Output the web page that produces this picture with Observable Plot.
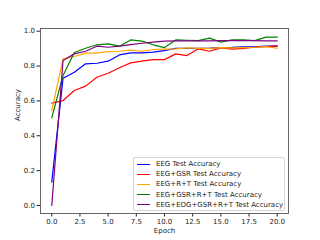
<!DOCTYPE html>
<html><head><meta charset="utf-8">
<script src="https://cdn.jsdelivr.net/npm/d3@7"></script>
<script src="https://cdn.jsdelivr.net/npm/@observablehq/plot@0.6"></script>
<style>
html,body{margin:0;padding:0;background:#fff;}
#wrap{position:relative;width:320px;height:240px;font-family:"DejaVu Sans",sans-serif;}
#legend{position:absolute;left:133px;top:157px;width:152px;height:54px;border:1px solid #d6d6d6;border-radius:2px;background:rgba(255,255,255,0.8);box-sizing:border-box;font-size:7px;color:#222;}
.row{position:absolute;left:3px;height:10px;display:flex;align-items:center;}
.sw{width:13px;height:0;border-top:1.2px solid;margin-right:6px;}
</style>
</head><body>
<div id="wrap"><div id="chart"></div><div id="legend"></div></div>
<script>
const epochs = d3.range(0, 21);
const seriesNames = ["EEG Test Accuracy","EEG+GSR Test Accuracy","EEG+R+T Test Accuracy","EEG+GSR+R+T Test Accuracy","EEG+EOG+GSR+R+T Test Accuracy"];
const seriesColors = ["#0000ff","#ff0000","#ffa500","#008000","#800080"];
const eeg = [0.134,0.73,0.765,0.813,0.816,0.828,0.864,0.876,0.876,0.88,0.889,0.902,0.902,0.902,0.903,0.906,0.907,0.91,0.91,0.914,0.914];
const eegGsr = [0.587,0.602,0.66,0.685,0.736,0.759,0.79,0.818,0.828,0.837,0.837,0.87,0.86,0.899,0.885,0.904,0.897,0.902,0.908,0.912,0.916];
const eegRT = [0.545,0.841,0.855,0.874,0.874,0.883,0.885,0.891,0.885,0.895,0.897,0.899,0.904,0.902,0.902,0.906,0.904,0.906,0.908,0.912,0.902];
const eegGsrRT = [0.503,0.746,0.878,0.902,0.922,0.927,0.914,0.95,0.943,0.922,0.906,0.95,0.948,0.946,0.96,0.937,0.95,0.95,0.946,0.966,0.966];
const eegAll = [0.0,0.832,0.87,0.885,0.914,0.908,0.914,0.923,0.931,0.937,0.943,0.945,0.945,0.945,0.945,0.946,0.946,0.946,0.946,0.945,0.945];
const xTicks = [0,2.5,5,7.5,10,12.5,15,17.5,20];
const yTicks = [0,0.2,0.4,0.6,0.8,1.0];

const allSeries = [eeg, eegGsr, eegRT, eegGsrRT, eegAll];
const data = allSeries.flatMap((vals, i) => vals.map((v, j) => ({epoch: epochs[j], acc: v, series: seriesNames[i]})));

const chart = Plot.plot({
  width: 320, height: 240,
  marginLeft: 40, marginRight: 32, marginTop: 28, marginBottom: 27,
  style: {fontFamily: "DejaVu Sans, sans-serif", fontSize: "7px", color: "#222", background: "#fff"},
  x: {domain: [-1, 21], ticks: xTicks, tickFormat: d3.format(".1f"), tickSize: 3.5, tickPadding: 2, label: null},
  y: {domain: [-0.046, 1.0155], ticks: yTicks, tickFormat: d3.format(".1f"), tickSize: 3.5, tickPadding: 2, label: null},
  color: {domain: seriesNames, range: seriesColors},
  marks: [
    Plot.lineY(data, {x: "epoch", y: "acc", z: "series", stroke: "series", strokeWidth: 1.2}),
    Plot.frame({stroke: "#555", strokeWidth: 0.9}),
    Plot.text(["Epoch"], {frameAnchor: "bottom", dy: 19, text: d => d, fontSize: 7, fill: "#222"}),
    Plot.text(["Accuracy"], {frameAnchor: "left", dx: -23, rotate: -90, text: d => d, fontSize: 7, fill: "#222"})
  ]
});
document.getElementById("chart").appendChild(chart);

const legend = document.getElementById("legend");
seriesNames.forEach((name, i) => {
  const row = document.createElement("div");
  row.className = "row";
  row.style.top = (1 + i * 10.2) + "px";
  const sw = document.createElement("div");
  sw.className = "sw";
  sw.style.borderTopColor = seriesColors[i];
  row.appendChild(sw);
  const t = document.createElement("span");
  t.textContent = name;
  row.appendChild(t);
  legend.appendChild(row);
});
</script>
</body></html>
